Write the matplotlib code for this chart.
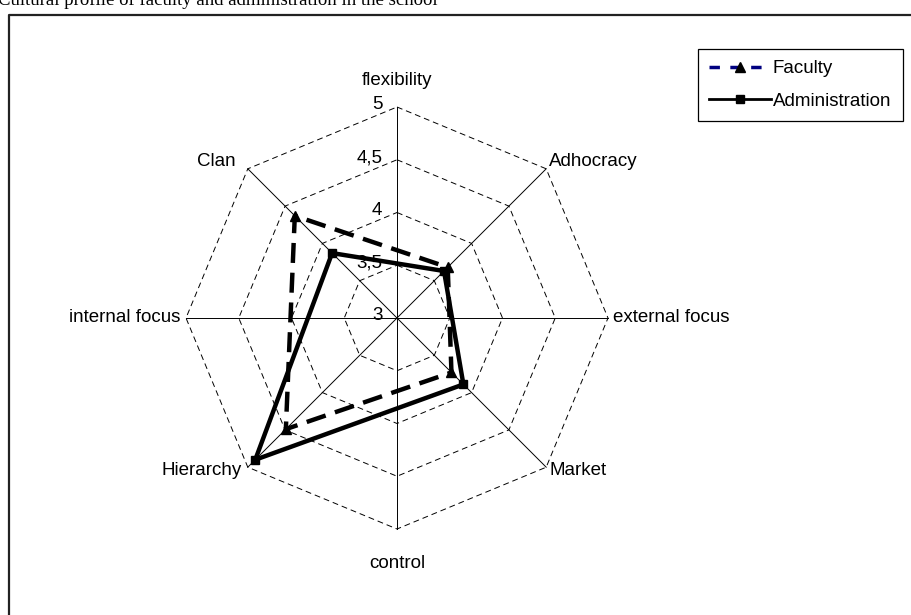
import numpy as np
import matplotlib
matplotlib.use("Agg")
import matplotlib.pyplot as plt
from matplotlib.lines import Line2D

# axes of the radar, clockwise from the top
categories = ["flexibility", "Adhocracy", "external focus", "Market",
              "control", "Hierarchy", "internal focus", "Clan"]
angles_deg = [90, 45, 0, -45, -90, -135, 180, 135]

# only the four quadrant types carry a value
faculty = [np.nan, 3.68, np.nan, 3.73, np.nan, 4.49, np.nan, 4.37]
administration = [np.nan, 3.63, np.nan, 3.89, np.nan, 4.90, np.nan, 3.87]

ticks = [3, 3.5, 4, 4.5, 5]
tick_labels = ["3", "3,5", "4", "4,5", "5"]
r_min = 3

title = "Cultural profile of faculty and administration in the school"

plt.rcParams['font.family'] = ['Liberation Sans', 'DejaVu Sans']
fs = 13.5

fig = plt.figure(figsize=(9.11, 6.15), dpi=100)
# background axes in pixel units for frame, title and legend
bg = fig.add_axes([0, 0, 1, 1])
bg.set_xlim(0, 911)
bg.set_ylim(615, 0)
bg.axis('off')
bg.plot([9, 9, 930], [640, 15, 15], color='#222222', lw=1.6, solid_capstyle='butt')
bg.text(-2, 5, title, family='Liberation Serif', fontsize=13.5, va='baseline', ha='left')

# radar axes, centre at pixel (397, 318), 1 unit = 105.5 px
cx, cy, half = 397, 318, 260
unit = 105.5
ax = fig.add_axes([(cx - half) / 911, 1 - (cy + half) / 615, 2 * half / 911, 2 * half / 615])
lim = half / unit
ax.set_xlim(-lim, lim)
ax.set_ylim(-lim, lim)
ax.axis('off')

theta = np.deg2rad(angles_deg)
rmax = ticks[-1] - r_min

# spokes
for t in theta:
    ax.plot([0, rmax * np.cos(t)], [0, rmax * np.sin(t)], color='black', lw=0.7)

# dashed octagon rings
closed = np.append(theta, theta[0])
for tk in ticks[1:]:
    r = tk - r_min
    ax.plot(r * np.cos(closed), r * np.sin(closed), color='black', lw=0.7,
            dashes=(6, 4))

# tick labels along the top spoke
for tk, lab in zip(ticks, tick_labels):
    ax.text(-0.14, tk - r_min + 0.02, lab, ha='right', va='center', fontsize=fs)

# category labels
for name, t in zip(categories, theta):
    x, y = rmax * np.cos(t), rmax * np.sin(t)
    c, s = np.cos(t), np.sin(t)
    if abs(c) < 1e-6:
        dy = 0.25 if s > 0 else -0.33
        ax.text(x, y + dy, name, ha='center', va='center', fontsize=fs)
    elif abs(s) < 1e-6:
        ha = 'left' if c > 0 else 'right'
        ax.text(x + 0.05 * np.sign(c), y, name, ha=ha, va='center', fontsize=fs)
    else:
        ha = 'left' if c > 0 else 'right'
        dx = 0.03 if c > 0 else (-0.12 if s > 0 else -0.06)
        dy = 0.07 if s > 0 else -0.03
        ax.text(x + dx, y + dy, name, ha=ha, va='center', fontsize=fs)


def series_xy(vals):
    v = np.array(vals, dtype=float)
    m = ~np.isnan(v)
    r = v[m] - r_min
    t = theta[m]
    x, y = r * np.cos(t), r * np.sin(t)
    return np.append(x, x[0]), np.append(y, y[0])


fx, fy = series_xy(faculty)
ax.plot(fx, fy, color='black', lw=3.2, dashes=(4.5, 2.2), marker='^', ms=7,
        markevery=list(range(len(fx) - 1)))
axx, axy = series_xy(administration)
ax.plot(axx, axy, color='black', lw=3.2, marker='s', ms=6,
        markevery=list(range(len(axx) - 1)))

handles = [
    Line2D([], [], color='#000080', lw=2.5, dashes=(3, 3), marker='^',
           markerfacecolor='black', markeredgecolor='black', ms=7),
    Line2D([], [], color='black', lw=2, marker='s', ms=6),
]
leg = bg.legend(handles, ["Faculty", "Administration"], loc='upper left',
                bbox_to_anchor=(698, 49), bbox_transform=bg.transData,
                fontsize=fs, frameon=True, fancybox=False, edgecolor='black',
                framealpha=1, handlelength=3.3, handletextpad=0.1,
                borderpad=0.6, labelspacing=0.8, borderaxespad=0)
leg.get_frame().set_linewidth(0.9)

fig.savefig("out.png", dpi=100)
